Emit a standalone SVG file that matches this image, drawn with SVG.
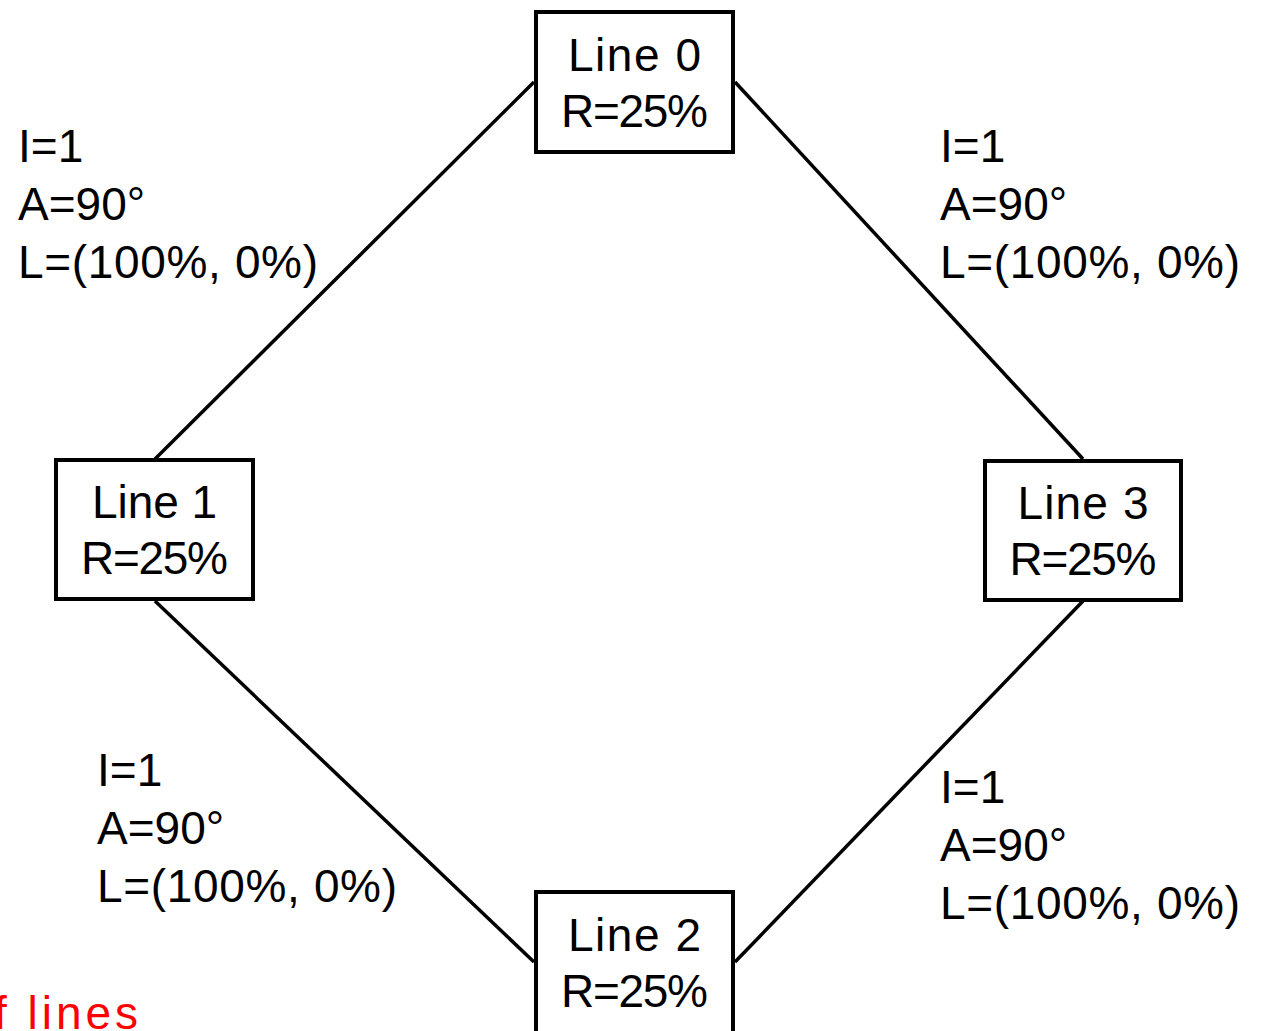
<svg xmlns="http://www.w3.org/2000/svg" width="1264" height="1031" viewBox="0 0 1264 1031">
  <style>
    .box { fill: #fff; stroke: #000; stroke-width: 4; }
    .edge { stroke: #000; stroke-width: 3.5; fill: none; }
    text { font-family: "Liberation Sans", "DejaVu Sans", sans-serif; font-size: 46px; fill: #000; }
    .mid { text-anchor: middle; }
    .note { fill: #ff0000; }
  </style>
  <rect width="1264" height="1031" fill="#fff"/>

  <!-- connectors between the four lines -->
  <g id="connectors">
    <line class="edge" x1="534" y1="82" x2="155" y2="459"/>
    <line class="edge" x1="735" y1="82" x2="1083" y2="459"/>
    <line class="edge" x1="155" y1="601" x2="534" y2="962"/>
    <line class="edge" x1="1083" y1="601" x2="735" y2="962"/>
  </g>

  <!-- edge parameter labels -->
  <g id="label-top-left">
    <text x="18" y="162">I=1</text>
    <text x="18" y="220">A=90°</text>
    <text x="18" y="278" textLength="300">L=(100%, 0%)</text>
  </g>
  <g id="label-top-right">
    <text x="940" y="162">I=1</text>
    <text x="940" y="220">A=90°</text>
    <text x="940" y="278" textLength="300">L=(100%, 0%)</text>
  </g>
  <g id="label-bottom-left">
    <text x="97" y="786">I=1</text>
    <text x="97" y="844">A=90°</text>
    <text x="97" y="902" textLength="300">L=(100%, 0%)</text>
  </g>
  <g id="label-bottom-right">
    <text x="940" y="803">I=1</text>
    <text x="940" y="861">A=90°</text>
    <text x="940" y="919" textLength="300">L=(100%, 0%)</text>
  </g>

  <!-- nodes -->
  <g id="line0">
    <rect class="box" x="536" y="12" width="197" height="140"/>
    <text class="mid" x="634.5" y="71" textLength="133">Line 0</text>
    <text class="mid" x="634.5" y="127" textLength="147">R=25%</text>
  </g>
  <g id="line1">
    <rect class="box" x="56" y="460" width="197" height="139"/>
    <text class="mid" x="154.5" y="518" textLength="125">Line 1</text>
    <text class="mid" x="154.5" y="574" textLength="147">R=25%</text>
  </g>
  <g id="line3">
    <rect class="box" x="985" y="461" width="196" height="139"/>
    <text class="mid" x="1083" y="519" textLength="131">Line 3</text>
    <text class="mid" x="1083" y="575" textLength="147">R=25%</text>
  </g>
  <g id="line2">
    <rect class="box" x="536" y="892" width="197" height="142"/>
    <text class="mid" x="634.5" y="951" textLength="133">Line 2</text>
    <text class="mid" x="634.5" y="1007" textLength="147">R=25%</text>
  </g>

  <g id="caption">
    <text class="note" x="-6" y="1029" textLength="144">f lines</text>
  </g>
</svg>
